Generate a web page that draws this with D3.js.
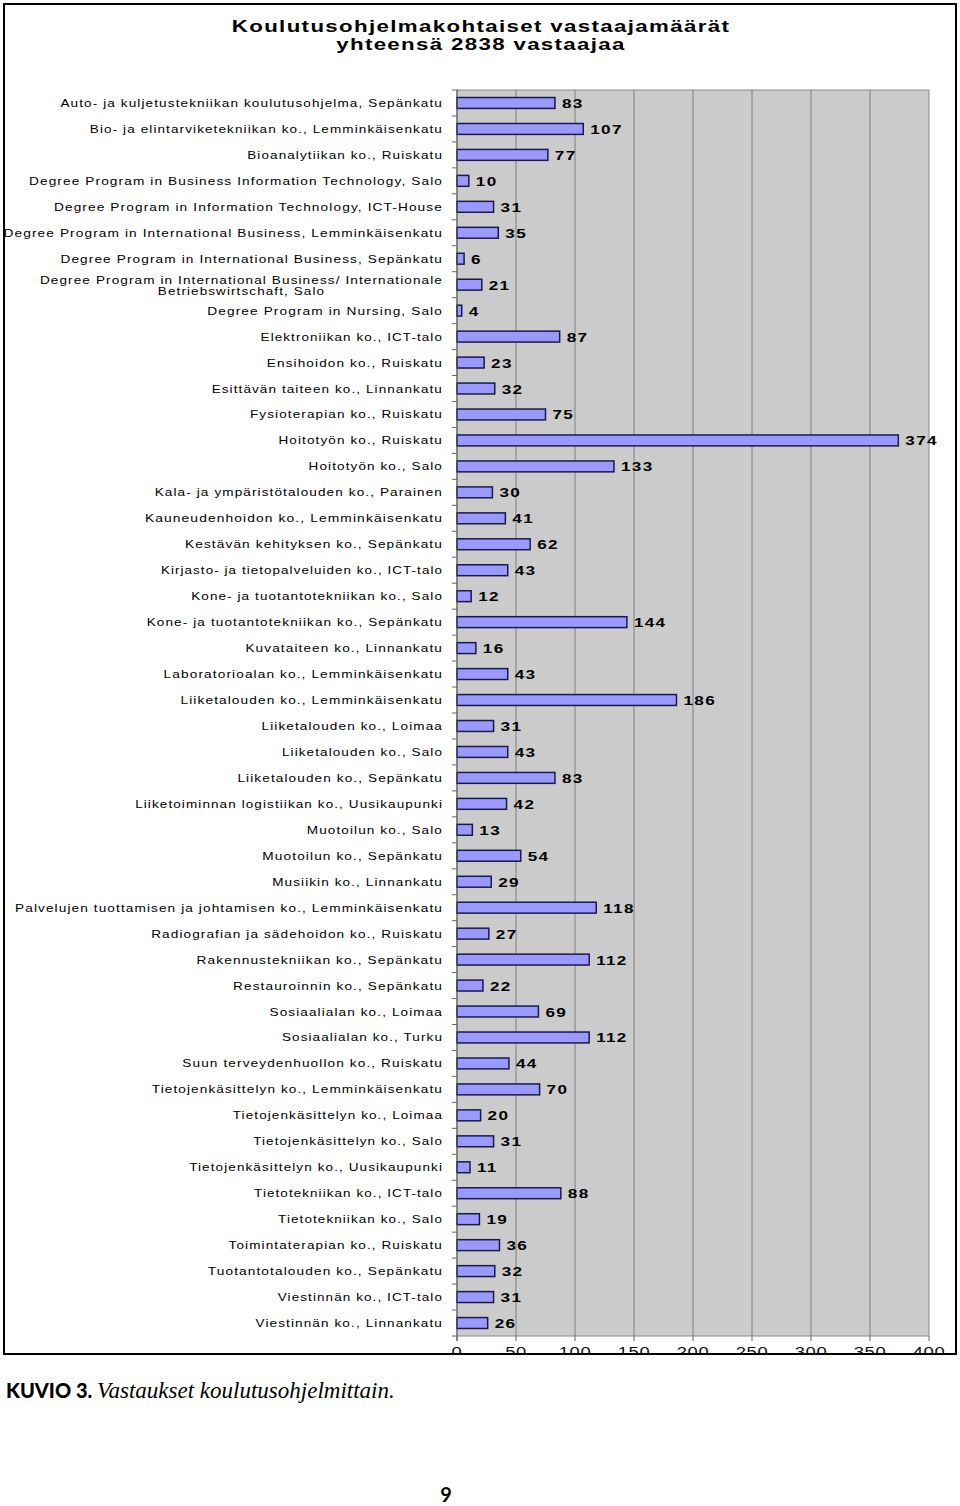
<!DOCTYPE html>
<html><head><meta charset="utf-8">
<script src="https://cdn.jsdelivr.net/npm/d3@7"></script>
<style>body{margin:0;background:#fff}svg{display:block}</style>
</head><body>
<script>
const categories = [
"Auto- ja kuljetustekniikan koulutusohjelma, Sepänkatu",
"Bio- ja elintarviketekniikan ko., Lemminkäisenkatu",
"Bioanalytiikan ko., Ruiskatu",
"Degree Program in Business Information Technology, Salo",
"Degree Program in Information Technology, ICT-House",
"Degree Program in International Business, Lemminkäisenkatu",
"Degree Program in International Business, Sepänkatu",
"Degree Program in International Business/ Internationale|Betriebswirtschaft, Salo",
"Degree Program in Nursing, Salo",
"Elektroniikan ko., ICT-talo",
"Ensihoidon ko., Ruiskatu",
"Esittävän taiteen ko., Linnankatu",
"Fysioterapian ko., Ruiskatu",
"Hoitotyön ko., Ruiskatu",
"Hoitotyön ko., Salo",
"Kala- ja ympäristötalouden ko., Parainen",
"Kauneudenhoidon ko., Lemminkäisenkatu",
"Kestävän kehityksen ko., Sepänkatu",
"Kirjasto- ja tietopalveluiden ko., ICT-talo",
"Kone- ja tuotantotekniikan ko., Salo",
"Kone- ja tuotantotekniikan ko., Sepänkatu",
"Kuvataiteen ko., Linnankatu",
"Laboratorioalan ko., Lemminkäisenkatu",
"Liiketalouden ko., Lemminkäisenkatu",
"Liiketalouden ko., Loimaa",
"Liiketalouden ko., Salo",
"Liiketalouden ko., Sepänkatu",
"Liiketoiminnan logistiikan ko., Uusikaupunki",
"Muotoilun ko., Salo",
"Muotoilun ko., Sepänkatu",
"Musiikin ko., Linnankatu",
"Palvelujen tuottamisen ja johtamisen ko., Lemminkäisenkatu",
"Radiografian ja sädehoidon ko., Ruiskatu",
"Rakennustekniikan ko., Sepänkatu",
"Restauroinnin ko., Sepänkatu",
"Sosiaalialan ko., Loimaa",
"Sosiaalialan ko., Turku",
"Suun terveydenhuollon ko., Ruiskatu",
"Tietojenkäsittelyn ko., Lemminkäisenkatu",
"Tietojenkäsittelyn ko., Loimaa",
"Tietojenkäsittelyn ko., Salo",
"Tietojenkäsittelyn ko., Uusikaupunki",
"Tietotekniikan ko., ICT-talo",
"Tietotekniikan ko., Salo",
"Toimintaterapian ko., Ruiskatu",
"Tuotantotalouden ko., Sepänkatu",
"Viestinnän ko., ICT-talo",
"Viestinnän ko., Linnankatu"
];
const values = [83,107,77,10,31,35,6,21,4,87,23,32,75,374,133,30,41,62,43,12,144,16,43,186,31,43,83,42,13,54,29,118,27,112,22,69,112,44,70,20,31,11,88,19,36,32,31,26];
const xTicks = [0,50,100,150,200,250,300,350,400];
const titleLines = ["Koulutusohjelmakohtaiset vastaajamäärät","yhteensä 2838 vastaajaa"];

const W = 960, H = 1506;
const svg = d3.select("body").append("svg").attr("width", W).attr("height", H);
const FONT = "'Liberation Sans', Arial, sans-serif";

// widen text: natural width * f, mixing letter-spacing and glyph stretch
function widen(sel, f, ls) {
  sel.each(function(){
    const n = this.getComputedTextLength();
    d3.select(this).attr("letter-spacing", ls)
      .attr("textLength", n * f).attr("lengthAdjust", "spacingAndGlyphs");
  });
}

const L = 457, R = 929, T = 90, B = 1336;
const x = d3.scaleLinear().domain([0,400]).range([L,R]);
const y = d3.scaleBand().domain(categories).range([T,B]).paddingInner(0.58).paddingOuter(0.29);

svg.append("clipPath").attr("id","box").append("rect").attr("x",4).attr("y",4).attr("width",952).attr("height",1350);
const g = svg.append("g").attr("clip-path","url(#box)");

// title
g.selectAll("text.title").data(titleLines).join("text")
  .attr("class","title").attr("x",481).attr("y",(d,i)=>32+i*18)
  .attr("text-anchor","middle").attr("font-family",FONT).attr("font-weight","bold")
  .attr("font-size",16.5).attr("fill","#000").text(d=>d)
  .call(widen,1.51,1);

// plot area
g.append("rect").attr("x",L).attr("y",T).attr("width",R-L).attr("height",B-T)
  .attr("fill","#cbcbcb").attr("stroke","#8a8a8a").attr("stroke-width",1);

// gridlines
g.selectAll("line.grid").data(xTicks.slice(1,-1)).join("line")
  .attr("x1",d=>x(d)).attr("x2",d=>x(d)).attr("y1",T).attr("y2",B)
  .attr("stroke","#7f7f7f").attr("stroke-width",1);

// bars
g.selectAll("rect.bar").data(values).join("rect")
  .attr("x",x(0)).attr("y",(d,i)=>y(categories[i]))
  .attr("width",d=>x(d)-x(0)).attr("height",y.bandwidth())
  .attr("fill","#9999ff").attr("stroke","#1a1a4a").attr("stroke-width",1.5);

// value labels
g.selectAll("text.val").data(values).join("text")
  .attr("x",d=>x(d)+7).attr("y",(d,i)=>y(categories[i])+y.bandwidth()/2+5)
  .attr("font-family",FONT).attr("font-weight","bold").attr("font-size",13)
  .attr("fill","#000").text(d=>d)
  .call(widen,1.5,1);

// left axis line and ticks at band boundaries
g.append("line").attr("x1",L).attr("x2",L).attr("y1",T).attr("y2",B+5).attr("stroke","#555").attr("stroke-width",1);
const bounds = d3.range(categories.length+1).map(i=>T + i*y.step());
g.selectAll("line.ytick").data(bounds).join("line")
  .attr("x1",L-5).attr("x2",L).attr("y1",d=>d).attr("y2",d=>d)
  .attr("stroke","#666").attr("stroke-width",1);
// bottom axis ticks
g.selectAll("line.xtick").data(xTicks).join("line")
  .attr("x1",d=>x(d)).attr("x2",d=>x(d)).attr("y1",B).attr("y2",B+5)
  .attr("stroke","#666").attr("stroke-width",1);
g.selectAll("text.xlab").data(xTicks).join("text")
  .attr("x",d=>x(d)).attr("y",1357).attr("text-anchor","middle")
  .attr("font-family",FONT).attr("font-size",15).attr("fill","#111").text(d=>d)
  .call(widen,1.3,0.5);

// category labels
function lab(sel){ return sel.attr("font-family",FONT).attr("font-size",11).attr("fill","#000"); }
categories.forEach((c,i)=>{
  const cy = y(c)+y.bandwidth()/2;
  const parts = c.split("|");
  if (parts.length === 1) {
    g.append("text").attr("x",443).attr("y",cy+4).attr("text-anchor","end")
      .call(lab).text(c).call(widen,1.455,0.9);
  } else {
    const t1 = g.append("text").attr("x",443).attr("y",cy-1).attr("text-anchor","end")
      .call(lab).text(parts[0]).call(widen,1.455,0.9);
    const bb = t1.node().getBBox();
    const cx = bb.x + bb.width/2;
    g.append("text").attr("x",cx).attr("y",cy+10).attr("text-anchor","middle")
      .call(lab).text(parts[1]).call(widen,1.455,0.9);
  }
});

// outer border
svg.append("rect").attr("x",4).attr("y",4).attr("width",952).attr("height",1350)
  .attr("fill","none").attr("stroke","#000").attr("stroke-width",2);

// caption
const cap = svg.append("text").attr("x",6).attr("y",1398);
cap.append("tspan").attr("font-family","Lato, 'Open Sans', sans-serif").attr("font-weight","900")
  .attr("font-size",20).text("KUVIO 3. ");
cap.append("tspan").attr("font-family","'Liberation Serif', 'DejaVu Serif', serif").attr("font-style","italic")
  .attr("font-size",23).text("Vastaukset koulutusohjelmittain.");

svg.append("text").attr("x",446).attr("y",1502).attr("text-anchor","middle")
  .attr("font-family","Lato, 'Open Sans', sans-serif").attr("font-weight","bold").attr("font-size",20).text("9");
</script>
</body></html>
